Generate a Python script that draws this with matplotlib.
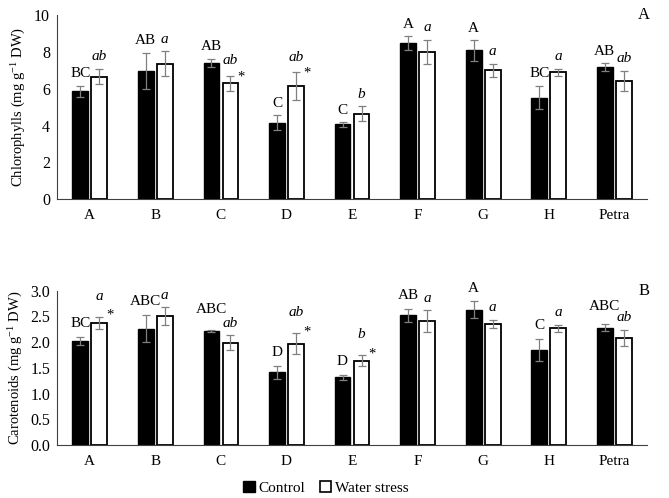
import matplotlib.pyplot as plt
from matplotlib.patches import Patch
import numpy as np

plt.rcParams['font.family'] = ['Liberation Serif', 'DejaVu Serif']
plt.rcParams['mathtext.fontset'] = 'custom'
plt.rcParams['mathtext.rm'] = 'Liberation Serif'
plt.rcParams['mathtext.it'] = 'Liberation Serif:italic'

cultivars = ['A', 'B', 'C', 'D', 'E', 'F', 'G', 'H', 'Petra']

# chlorophylls (mg g-1 DW)
chl_ctrl = [5.85, 6.97, 7.39, 4.16, 4.06, 8.48, 8.08, 5.52, 7.17]
chl_ctrl_err = [0.32, 0.97, 0.23, 0.40, 0.13, 0.36, 0.55, 0.63, 0.22]
chl_ws = [6.66, 7.35, 6.30, 6.16, 4.65, 8.00, 6.99, 6.88, 6.43]
chl_ws_err = [0.42, 0.68, 0.41, 0.75, 0.40, 0.67, 0.35, 0.21, 0.55]
chl_ctrl_lbl = ['BC', 'AB', 'AB', 'C', 'C', 'A', 'A', 'BC', 'AB']
chl_ws_lbl = ['ab', 'a', 'ab', 'ab', 'b', 'a', 'a', 'a', 'ab']
chl_star = [False, False, True, True, False, False, False, False, False]

# carotenoids (mg g-1 DW)
car_ctrl = [2.02, 2.26, 2.22, 1.41, 1.32, 2.52, 2.63, 1.85, 2.28]
car_ctrl_err = [0.08, 0.26, 0.02, 0.12, 0.05, 0.12, 0.16, 0.21, 0.07]
car_ws = [2.37, 2.51, 1.99, 1.97, 1.64, 2.41, 2.35, 2.27, 2.08]
car_ws_err = [0.12, 0.17, 0.14, 0.20, 0.11, 0.21, 0.08, 0.07, 0.16]
car_ctrl_lbl = ['BC', 'ABC', 'ABC', 'D', 'D', 'AB', 'A', 'C', 'ABC']
car_ws_lbl = ['a', 'a', 'ab', 'ab', 'b', 'a', 'a', 'a', 'ab']
car_star = [True, False, False, True, True, False, False, False, False]

fig = plt.figure(figsize=(6.69, 4.98), dpi=100)
ax1 = fig.add_axes([0.0852, 0.5998, 0.882, 0.3701])
ax2 = fig.add_axes([0.0852, 0.1064, 0.882, 0.3099])

x = np.arange(len(cultivars))
off = 0.145
w = 0.24
ekw = dict(ecolor='#808080', elinewidth=0.9, capsize=2.6, capthick=0.9)


def panel(ax, ctrl, ctrl_err, ws, ws_err, clbl, wlbl, star, ymax, yticks, fmt,
          ylabel, tag, cpad, star_up, lift=None):
    lift = lift or {}
    ax.bar(x - off, ctrl, w, color='black', edgecolor='black', yerr=ctrl_err,
           error_kw=ekw, zorder=2)
    ax.bar(x + off, ws, w, color='white', edgecolor='black', linewidth=1.3,
           yerr=ws_err, error_kw=ekw, zorder=2)
    for i in range(len(x)):
        top_c = ctrl[i] + ctrl_err[i]
        ax.annotate(clbl[i], (x[i] - off, top_c), xytext=(0, cpad + lift.get(i, 0)),
                    textcoords='offset points', ha='center', va='bottom',
                    fontsize=11)
        top_w = ws[i] + ws_err[i]
        up = 4 + (star_up if star[i] else 0)
        ax.annotate(wlbl[i], (x[i] + off, top_w), xytext=(0, up),
                    textcoords='offset points', ha='center', va='bottom',
                    fontsize=11, style='italic')
        if star[i]:
            ax.annotate('*', (x[i] + off + w / 2, top_w),
                        xytext=(2, star_up / 2 - 2),
                        textcoords='offset points', ha='center', va='center',
                        fontsize=10.5)
    ax.set_xlim(-0.5, len(x) - 0.5)
    ax.set_ylim(0, ymax)
    ax.set_yticks(yticks)
    ax.set_yticklabels([fmt.format(v) for v in yticks], fontsize=11.5)
    ax.set_xticks(x)
    ax.set_xticklabels(cultivars, fontsize=11)
    ax.tick_params(length=0, pad=7)
    ax.tick_params(axis='y', pad=5)
    for s in ['top', 'right']:
        ax.spines[s].set_visible(False)
    ax.spines['left'].set_color('#404040')
    ax.spines['bottom'].set_color('#404040')
    ax.set_ylabel(ylabel, fontsize=10.5, labelpad=4)
    ax.text(0.985, 1.0, tag, transform=ax.transAxes, fontsize=12,
            ha='left', va='center')


panel(ax1, chl_ctrl, chl_ctrl_err, chl_ws, chl_ws_err, chl_ctrl_lbl,
      chl_ws_lbl, chl_star, 10, [0, 2, 4, 6, 8, 10], '{:.0f}',
      r'Chlorophylls (mg g$^{\mathrm{-1}}$ DW)', 'A', 4, 2)
panel(ax2, car_ctrl, car_ctrl_err, car_ws, car_ws_err, car_ctrl_lbl,
      car_ws_lbl, car_star, 3.0, [0, 0.5, 1.0, 1.5, 2.0, 2.5, 3.0], '{:.1f}',
      r'Carotenoids (mg g$^{\mathrm{-1}}$ DW)', 'B', 5, 6,
      lift={2: 5, 8: 3})

handles = [Patch(facecolor='black', edgecolor='black', label='Control'),
           Patch(facecolor='white', edgecolor='black', linewidth=1.2,
                 label='Water stress')]
fig.legend(handles=handles, loc='center', bbox_to_anchor=(0.487, 0.02),
           ncol=2, frameon=False, fontsize=11, handlelength=0.75,
           handleheight=0.75, handletextpad=0.2, columnspacing=1.0)

fig.savefig('out.png', dpi=100)
